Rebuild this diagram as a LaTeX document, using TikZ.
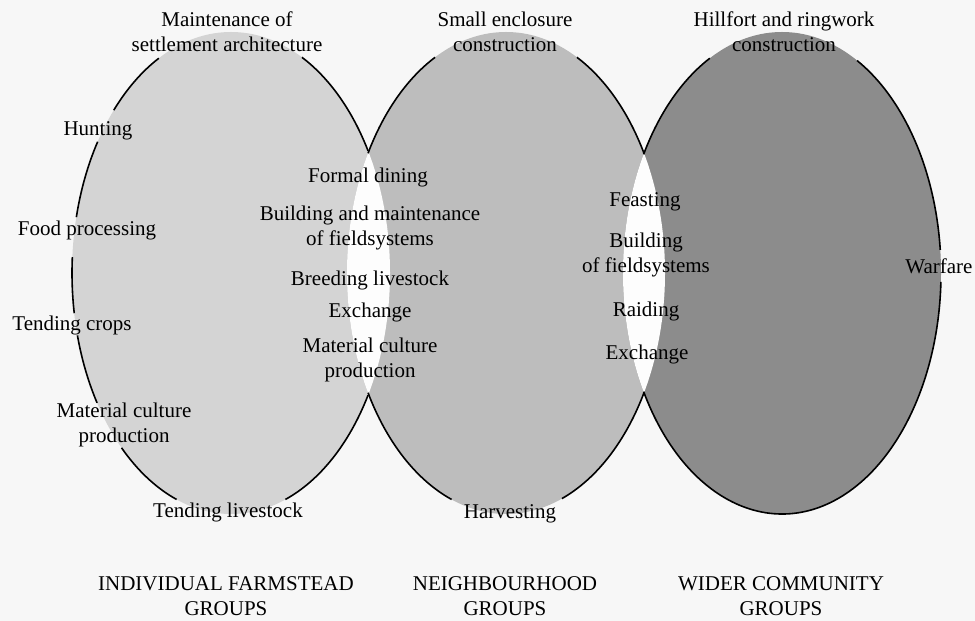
\documentclass[tikz,border=0pt]{standalone}
\usepackage{fontspec}
\setmainfont{Liberation Serif}
\usepackage{tikz}
\usetikzlibrary{positioning}
\definecolor{vnback}{HTML}{F7F7F7}
\definecolor{vnlens}{HTML}{FDFDFD}
\definecolor{vnlight}{HTML}{D4D4D4}
\definecolor{vnmid}{HTML}{BDBDBD}
\definecolor{vndark}{HTML}{8C8C8C}

\begin{document}
\begin{tikzpicture}[
    x=0.5pt, y=0.5pt,
    txt/.style={align=center, inner sep=1pt, font=\fontsize{10.5}{12.5}\selectfont},
    rim/.style={line width=0.8pt, black},
]
    % Canvas
    \fill[vnback] (0,0) rectangle (975,621);
    \useasboundingbox (0,0) rectangle (975,621);

    % Group centres
    \coordinate (farm) at (231,348);
    \coordinate (hood) at (506,348);
    \coordinate (wide) at (782,348);

    % Fills
    \fill[vnlight] (farm) ellipse [x radius=159, y radius=241];
    \fill[vnmid] (hood) ellipse [x radius=159, y radius=241];
    \fill[vndark] (wide) ellipse [x radius=159, y radius=241];

    % Overlaps
    \begin{scope}
        \clip (farm) ellipse [x radius=159, y radius=241];
        \fill[vnlens] (hood) ellipse [x radius=159, y radius=241];
    \end{scope}
    \begin{scope}
        \clip (hood) ellipse [x radius=159, y radius=241];
        \fill[vnlens] (wide) ellipse [x radius=159, y radius=241];
    \end{scope}

    % Outlines, broken where the labels sit
    \foreach \a/\b in {30.5/63.5, 117/137.5, 147/166.6, 176.2/189.6, 195/212.6, 226.5/250, 290/329.5}
        \draw[rim] (farm) ++(\a:159 and 241) arc[start angle=\a, end angle=\b, x radius=159, y radius=241];
    \foreach \a/\b in {29.8/63.5, 116.5/150.2, 209.8/250, 290.6/330.2}
        \draw[rim] (hood) ++(\a:159 and 241) arc[start angle=\a, end angle=\b, x radius=159, y radius=241];
    \foreach \a/\b in {5.5/61.8, 117/150.5, 209.5/357.9}
        \draw[rim] (wide) ++(\a:159 and 241) arc[start angle=\a, end angle=\b, x radius=159, y radius=241];

    % Top labels
    \node[txt] (settle) at (227,589) {Maintenance of\\settlement architecture};
    \node[txt] (encl) at (505,589) {Small enclosure\\construction};
    \node[txt] (hillfort) at (784,589) {Hillfort and ringwork\\construction};

    % Farmstead
    \node[txt] (hunt) at (98,490) {Hunting};
    \node[txt] (food) at (87,391) {Food processing};
    \node[txt] (crops) at (72,296) {Tending crops};
    \node[txt] (craftl) at (124,196) {Material culture\\production};
    \node[txt] (stock) at (228,109) {Tending livestock};

    % Farmstead and neighbourhood
    \node[txt] (dining) at (368,444) {Formal dining};
    \node[txt] (fields) at (370,393) {Building and maintenance\\of fieldsystems};
    \node[txt] (breed) at (370,341) {Breeding livestock};
    \node[txt] (exchl) at (370,309) {Exchange};
    \node[txt] (craftm) at (370,261) {Material culture\\production};

    % Neighbourhood
    \node[txt] (harvest) at (510,107) {Harvesting};

    % Neighbourhood and community
    \node[txt] (feast) at (645,419) {Feasting};
    \node[txt] (fieldsr) at (646,366) {Building\\of fieldsystems};
    \node[txt] (raid) at (646,310) {Raiding};
    \node[txt] (exchr) at (647,267) {Exchange};

    % Community
    \node[txt] (war) at (939,355) {Warfare};

    % Group names
    \node[txt] (gfarm) at (226,25) {INDIVIDUAL FARMSTEAD\\GROUPS};
    \node[txt] (ghood) at (505,25) {NEIGHBOURHOOD\\GROUPS};
    \node[txt] (gwide) at (781,25) {WIDER COMMUNITY\\GROUPS};
\end{tikzpicture}
\end{document}
